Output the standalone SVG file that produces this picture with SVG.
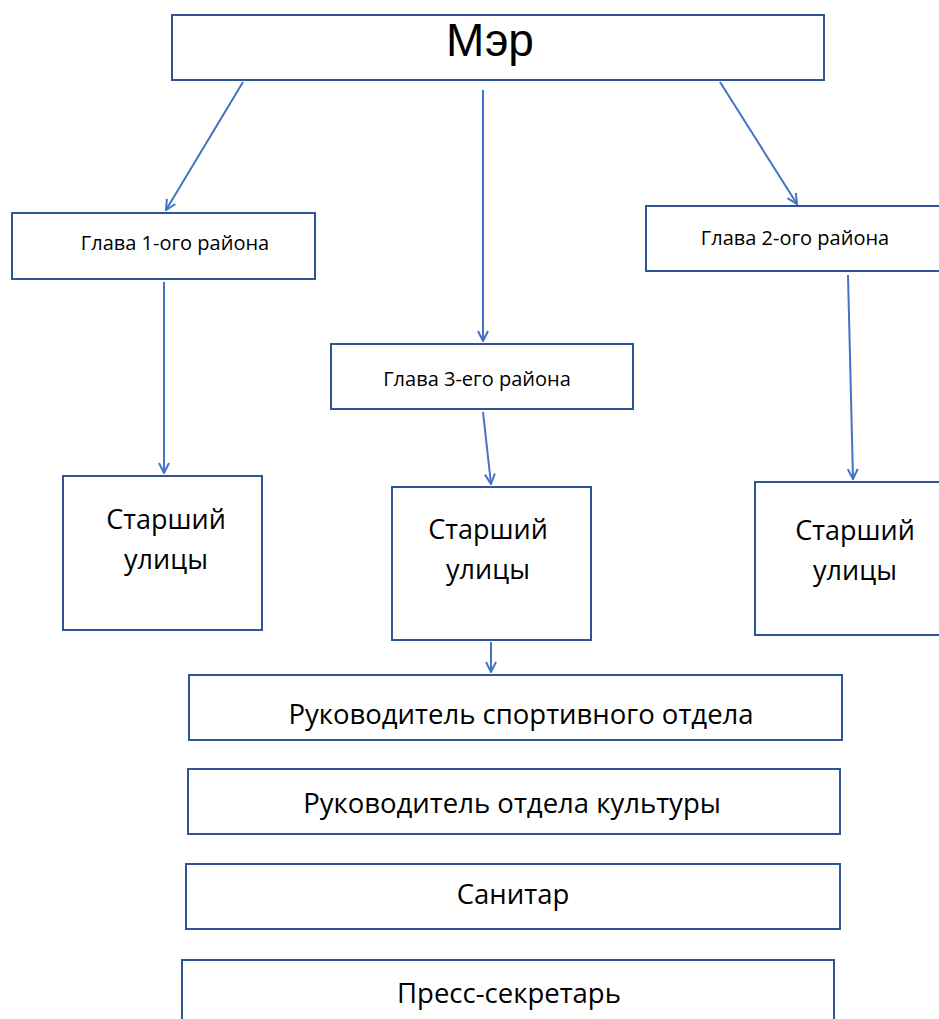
<svg xmlns="http://www.w3.org/2000/svg" width="939" height="1019" viewBox="0 0 939 1019">
<style>
.box{fill:#fff;stroke:#2F5597;stroke-width:2}
.t{font-family:"Open Sans","Noto Sans","Liberation Sans",sans-serif;fill:#000;text-anchor:middle}
.c{stroke:#4472C4;stroke-width:2;fill:none;marker-end:url(#ah)}
</style>
<defs>
<marker id="ah" viewBox="0 0 12 12" refX="11" refY="6" markerWidth="12" markerHeight="12" markerUnits="userSpaceOnUse" orient="auto">
<path d="M1,1 L11,6 L1,11" fill="none" stroke="#4472C4" stroke-width="2"/>
</marker>
</defs>
<rect width="939" height="1019" fill="#fff"/>
<g id="connectors">
<line class="c" x1="243" y1="82" x2="166" y2="210"/>
<line class="c" x1="483" y1="90" x2="483" y2="341"/>
<line class="c" x1="720" y1="82" x2="797" y2="204"/>
<line class="c" x1="164" y1="282" x2="164" y2="473"/>
<line class="c" x1="848" y1="275" x2="853" y2="479"/>
<line class="c" x1="483" y1="412" x2="491" y2="484"/>
<line class="c" x1="491" y1="642" x2="491" y2="672"/>
</g>
<g id="mayor">
<rect class="box" x="172" y="15" width="652" height="65"/>
<text x="490" y="56" font-family="Liberation Sans,Arial,sans-serif" font-size="46" text-anchor="middle" fill="#000">Мэр</text>
</g>
<g id="head1">
<rect class="box" x="12" y="213" width="303" height="66"/>
<text class="t" x="175" y="250" font-size="20">Глава 1-ого района</text>
</g>
<g id="head2">
<rect class="box" x="646" y="206" width="300" height="65"/>
<text class="t" x="795" y="245" font-size="20">Глава 2-ого района</text>
</g>
<g id="head3">
<rect class="box" x="331" y="344" width="302" height="65"/>
<text class="t" x="477" y="386" font-size="20">Глава 3-его района</text>
</g>
<g id="street1">
<rect class="box" x="63" y="476" width="199" height="154"/>
<text class="t" x="166" y="529" font-size="27">Старший</text>
<text class="t" x="166" y="569" font-size="27">улицы</text>
</g>
<g id="street2">
<rect class="box" x="392" y="487" width="199" height="153"/>
<text class="t" x="488" y="539" font-size="27">Старший</text>
<text class="t" x="488" y="579" font-size="27">улицы</text>
</g>
<g id="street3">
<rect class="box" x="755" y="482" width="199" height="153"/>
<text class="t" x="855" y="540" font-size="27">Старший</text>
<text class="t" x="855" y="580" font-size="27">улицы</text>
</g>
<g id="sport">
<rect class="box" x="189" y="675" width="653" height="65"/>
<text class="t" x="521" y="724" font-size="27.5">Руководитель спортивного отдела</text>
</g>
<g id="culture">
<rect class="box" x="188" y="769" width="652" height="65"/>
<text class="t" x="512" y="813" font-size="27.5">Руководитель отдела культуры</text>
</g>
<g id="sanitar">
<rect class="box" x="186" y="864" width="654" height="65"/>
<text class="t" x="513" y="904" font-size="27.5">Санитар</text>
</g>
<g id="press">
<rect class="box" x="182" y="960" width="652" height="70"/>
<text class="t" x="509" y="1003" font-size="27.5">Пресс-секретарь</text>
</g>
</svg>
